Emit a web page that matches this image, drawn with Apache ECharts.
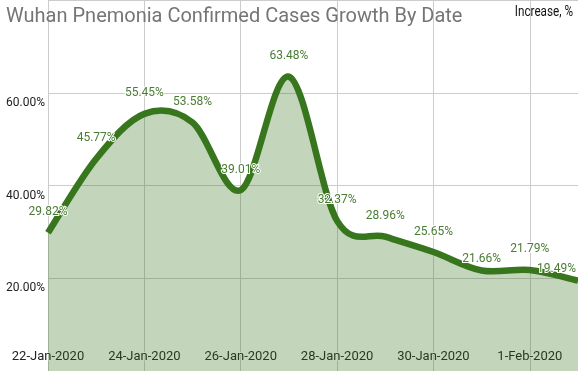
<!DOCTYPE html>
<html>
<head>
<meta charset="utf-8">
<script src="https://cdn.jsdelivr.net/npm/echarts@6/dist/echarts.min.js"></script>
<style>
html,body{margin:0;padding:0;background:#fff;}
#c{width:578px;height:371px;}
</style>
</head>
<body>
<div id="c"></div>
<script>
var categories = ['22-Jan-2020','23-Jan-2020','24-Jan-2020','25-Jan-2020','26-Jan-2020','27-Jan-2020','28-Jan-2020','29-Jan-2020','30-Jan-2020','31-Jan-2020','1-Feb-2020','2-Feb-2020'];
var values = [29.82,45.77,55.45,53.58,39.01,63.48,32.37,28.96,25.65,21.66,21.79,19.49];
var yTicks = [0,20,40,60,80];
var titleText = 'Wuhan Pnemonia Confirmed Cases Growth By Date';
var unitText = 'Increase, %';

// label placement tweaks (style only): vertical nudge per point index; last label kept inside chart
var labelNudgeY = {9:9, 11:9};

// Catmull-Rom style smooth curve through the points, computed in pixel space via api.coord
function renderCurve(params, api){
  var n = values.length;
  var pts = values.map(function(v,i){ return api.coord([i, v]); });
  var base = api.coord([0, yTicks[0]])[1];
  var t = 1/6;
  var d = 'M' + pts[0][0] + ' ' + pts[0][1];
  for (var i = 0; i < n-1; i++){
    var p0 = pts[Math.max(i-1,0)], p1 = pts[i], p2 = pts[i+1], p3 = pts[Math.min(i+2,n-1)];
    var c1x = p1[0] + (p2[0]-p0[0])*t, c1y = p1[1] + (p2[1]-p0[1])*t;
    var c2x = p2[0] - (p3[0]-p1[0])*t, c2y = p2[1] - (p3[1]-p1[1])*t;
    d += ' C' + c1x + ' ' + c1y + ' ' + c2x + ' ' + c2y + ' ' + p2[0] + ' ' + p2[1];
  }
  var area = d + ' L' + pts[n-1][0] + ' ' + base + ' L' + pts[0][0] + ' ' + base + ' Z';
  return {
    type:'group',
    children:[
      {type:'path', shape:{pathData:area}, style:{fill:'rgba(56,118,29,0.3)', stroke:'none'}},
      {type:'path', shape:{pathData:d}, style:{fill:'none', stroke:'#38761d', lineWidth:6.5, lineJoin:'round', lineCap:'butt'}}
    ]
  };
}

var chart = echarts.init(document.getElementById('c'), null, {renderer:'canvas'});
var W = 578;
chart.setOption({
  animation:false,
  backgroundColor:'#fff',
  textStyle:{fontFamily:'Roboto'},
  title:[{
    text:titleText,
    left:1, top:2,
    textStyle:{fontFamily:'Roboto', fontSize:20, fontWeight:'normal', color:'#757575'}
  }],
  graphic:[{
    type:'text',
    x:573, y:12.5, originX:0, originY:0,
    scaleX:0.78,
    z:10,
    style:{text:unitText, fontFamily:'Roboto', fontSize:15, fill:'#111', textAlign:'right', textVerticalAlign:'middle'}
  }],
  grid:{left:48, right:0, top:0, bottom:0, containLabel:false},
  xAxis:{
    type:'category',
    data:categories,
    boundaryGap:false,
    axisLine:{show:false},
    axisTick:{show:false},
    axisLabel:{
      inside:true, interval:1, margin:8,
      fontFamily:'Roboto', fontSize:13, color:'#222',
      textBorderColor:'#fff', textBorderWidth:2
    },
    splitLine:{show:true, interval:1, lineStyle:{color:'#cccccc', width:1}}
  },
  yAxis:{
    type:'value',
    min:yTicks[0], max:yTicks[yTicks.length-1], interval:20,
    axisLine:{show:false},
    axisTick:{show:false},
    axisLabel:{
      showMinLabel:false, showMaxLabel:false,
      margin:3, verticalAlign:'top', padding:[4,0,0,0],
      fontFamily:'Roboto', fontSize:12, color:'#222',
      formatter:function(v){return v.toFixed(2)+'%';}
    },
    splitLine:{show:true, lineStyle:{color:'#cccccc', width:1}}
  },
  series:[{
    type:'custom',
    data:[[0, values[0]]],
    encode:{x:0, y:1},
    renderItem:renderCurve,
    silent:true,
    z:2
  },{
    type:'line',
    data:values,
    showSymbol:true,
    symbol:'circle',
    symbolSize:1,
    itemStyle:{color:'rgba(0,0,0,0)'},
    lineStyle:{color:'rgba(0,0,0,0)', width:0},
    z:3,
    labelLayout:function(p){
      var o = {hideOverlap:false};
      var r = p.labelRect;
      if (labelNudgeY[p.dataIndex]) o.dy = labelNudgeY[p.dataIndex];
      if (r && r.x + r.width > W - 1) o.dx = (W - 1) - (r.x + r.width);
      return o;
    },
    label:{
      show:true, position:'top', distance:14,
      fontFamily:'Roboto', fontSize:12, color:'#4a7c33',
      textBorderColor:'#fff', textBorderWidth:2,
      formatter:function(p){return p.value.toFixed(2)+'%';}
    }
  }]
});
</script>
</body>
</html>
